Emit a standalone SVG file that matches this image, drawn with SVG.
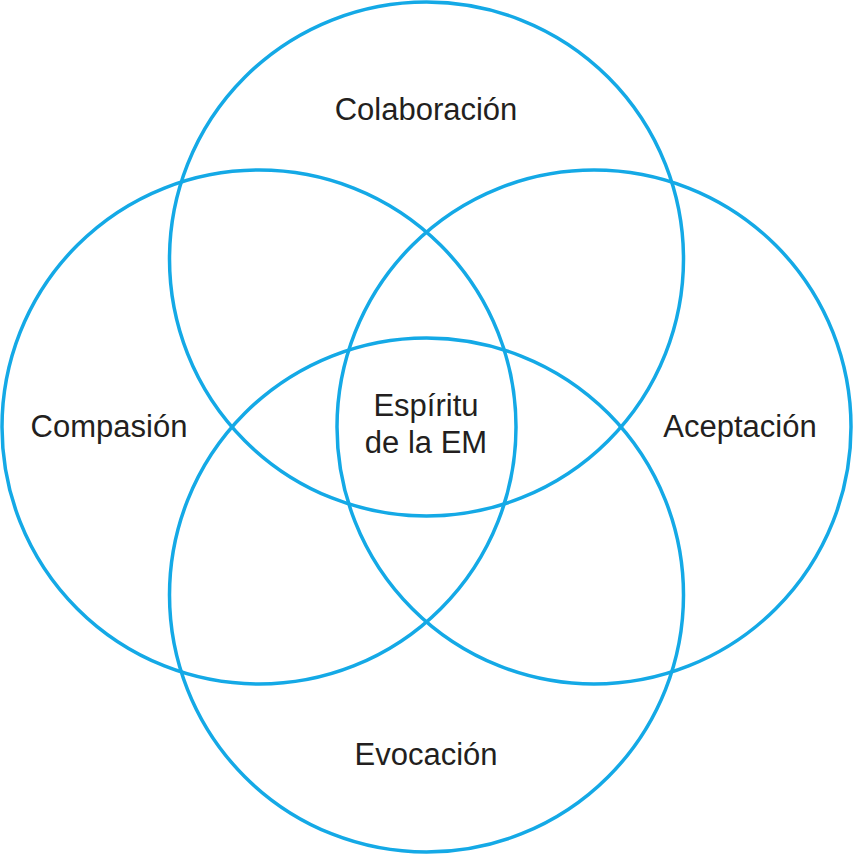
<svg xmlns="http://www.w3.org/2000/svg" width="853" height="854" viewBox="0 0 853 854">
<style>
.c{fill:none;stroke:#14a9e6;stroke-width:3.5}
.t{font-family:"Liberation Sans",Arial,sans-serif;font-size:31px;fill:#231f20;text-anchor:middle}
</style>
<rect width="853" height="854" fill="#fff"/>
<g id="top"><circle class="c" cx="426.5" cy="259" r="257"/><text class="t" x="426" y="120">Colaboración</text></g>
<g id="left"><circle class="c" cx="259" cy="427" r="257"/><text class="t" x="109" y="437">Compasión</text></g>
<g id="right"><circle class="c" cx="594" cy="427" r="257"/><text class="t" x="740" y="437">Aceptación</text></g>
<g id="bottom"><circle class="c" cx="426.5" cy="595" r="257"/><text class="t" x="426" y="765">Evocación</text></g>
<g id="center"><text class="t" x="426" y="416">Espíritu</text><text class="t" x="426" y="453">de la EM</text></g>
<g id="connectors"/>
</svg>
